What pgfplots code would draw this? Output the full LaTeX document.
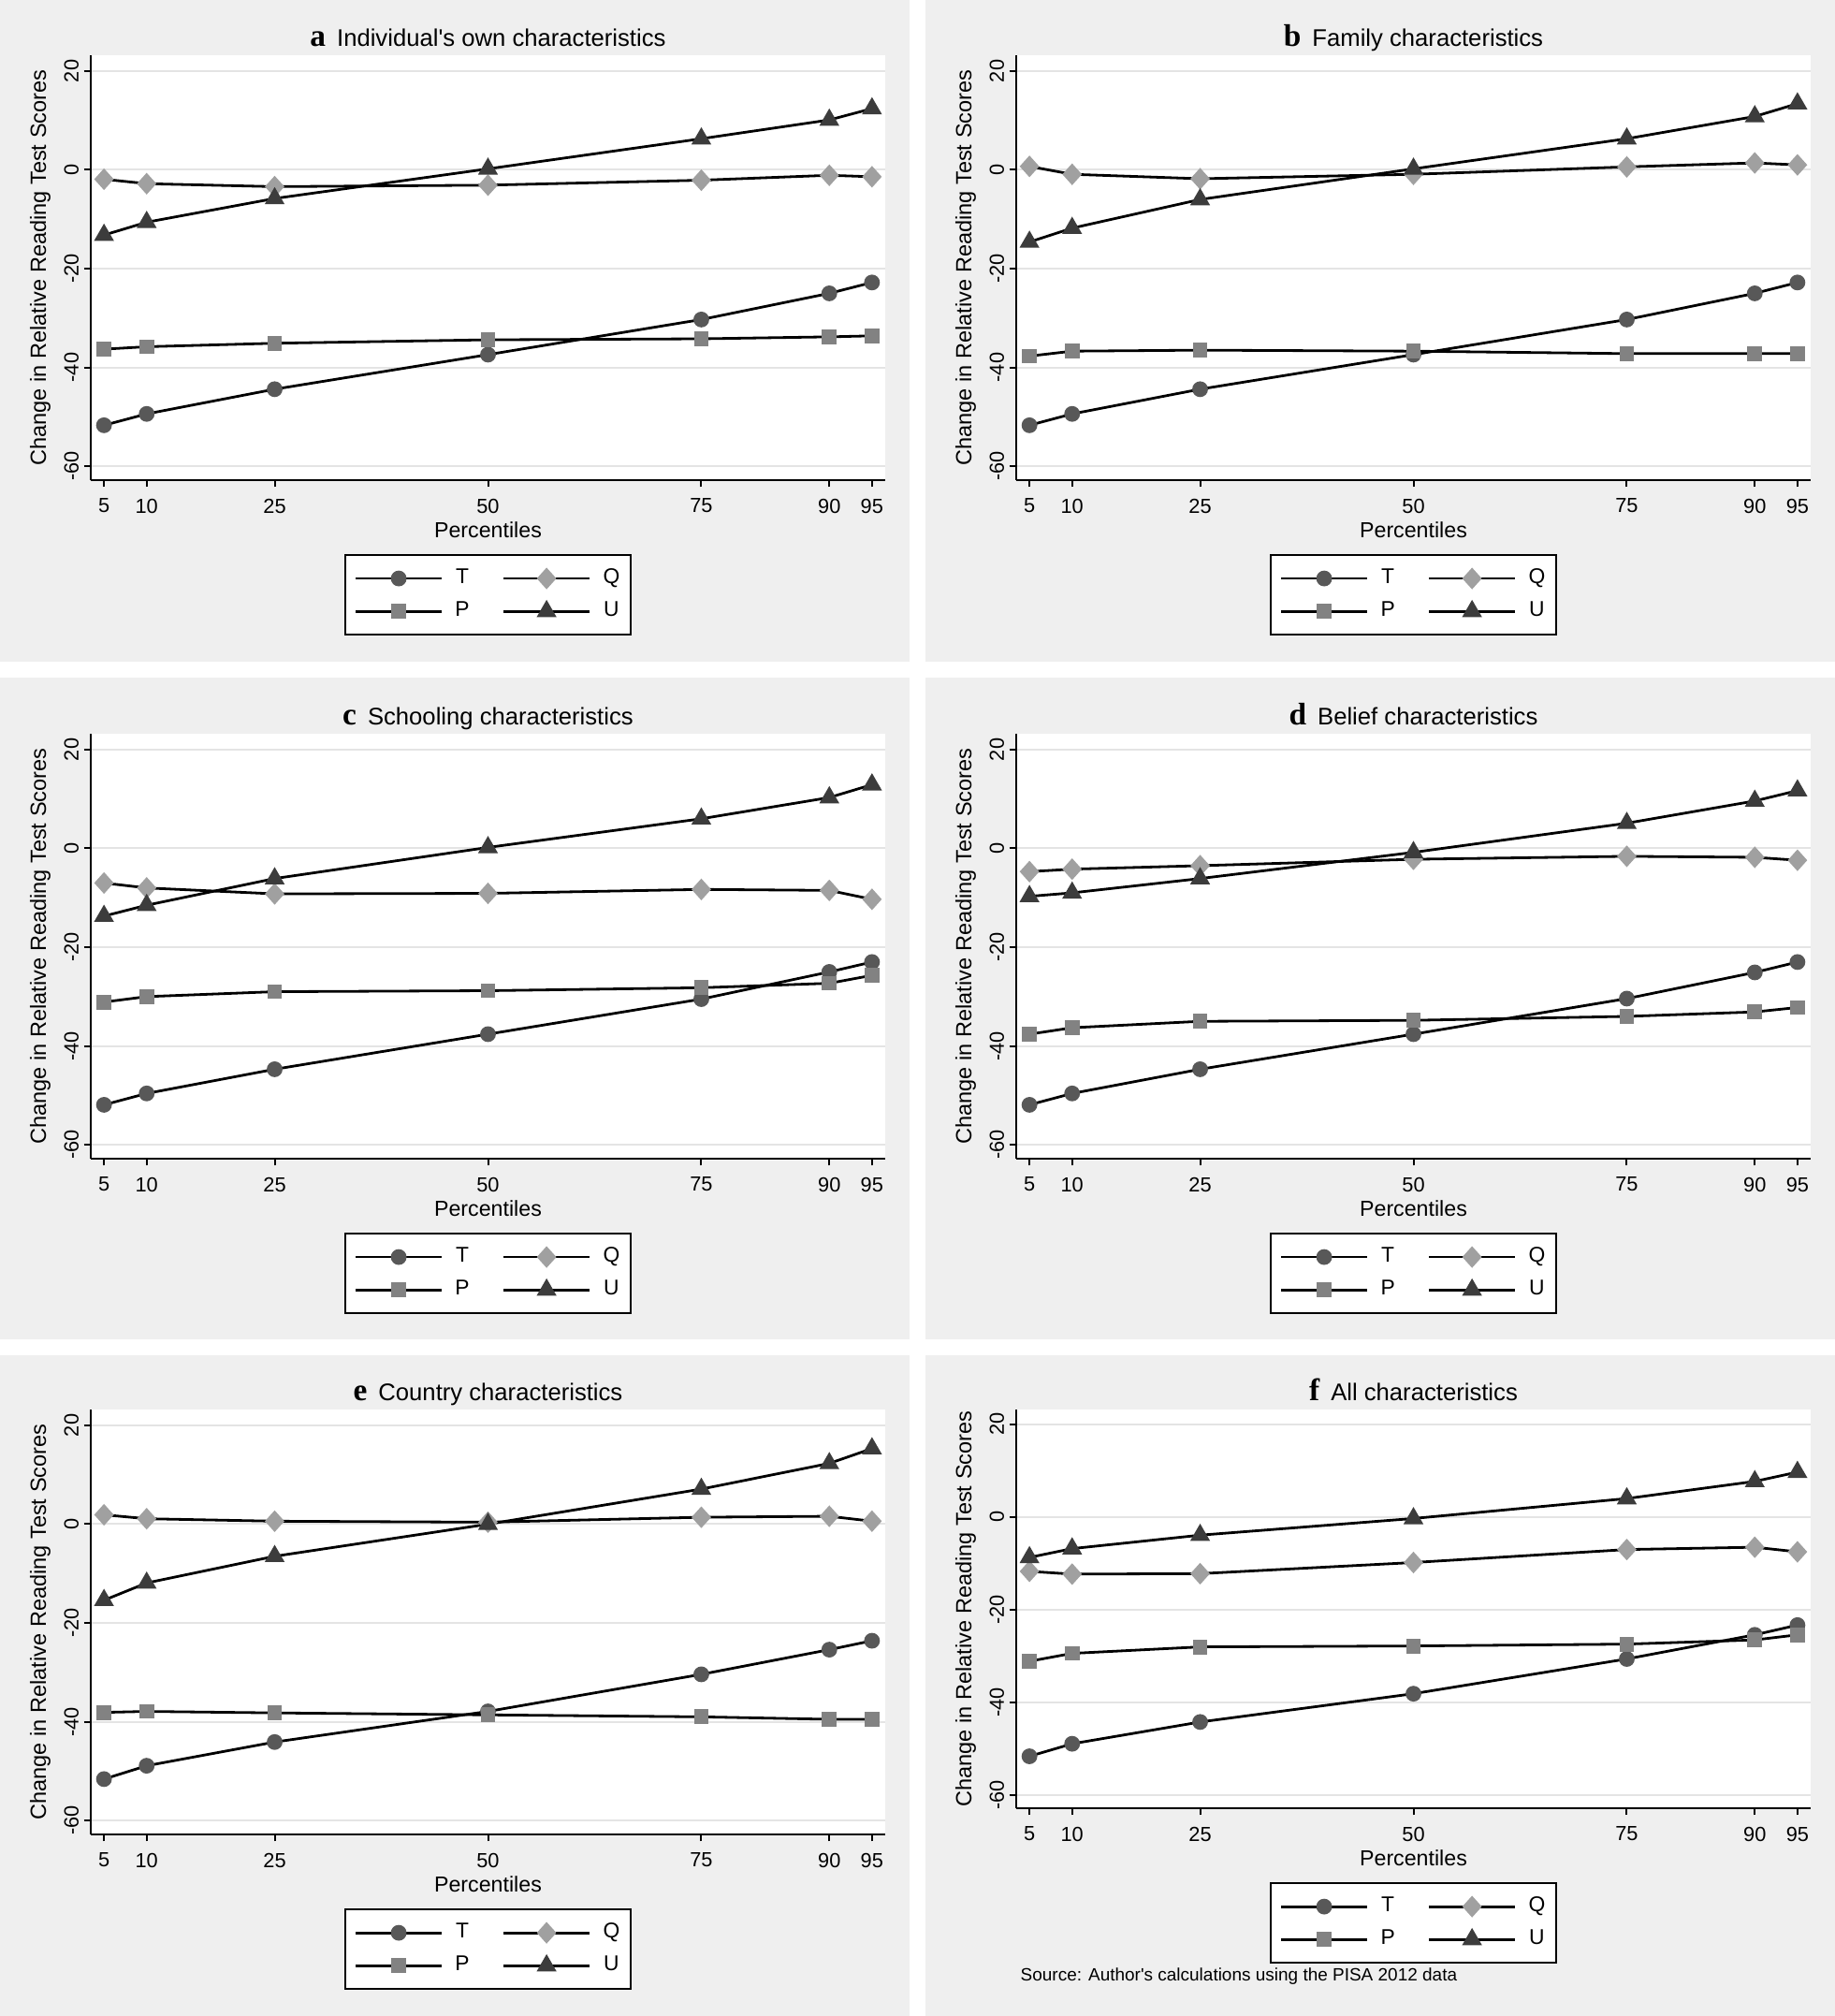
\documentclass[border=0pt]{standalone}
\usepackage{pgfplots}
\pgfplotsset{compat=1.18}
\usepackage{pgfplotstable}
\usepackage{fontspec}
\setmainfont{Liberation Sans}
\newfontfamily\serifb{Liberation Serif}
\newcommand\fs[1]{\fontsize{#1}{#1}\selectfont}
\definecolor{bg}{HTML}{EFEFEF}
\definecolor{gridc}{HTML}{E4E4E4}
\definecolor{cT}{HTML}{585858}
\definecolor{cQ}{HTML}{A0A0A0}
\definecolor{cP}{HTML}{828282}
\definecolor{cU}{HTML}{3C3C3C}

\pgfplotstableread{
x T Q P U
5  -51.7 -1.9 -36.3 -13.2
10 -49.4 -2.8 -35.8 -10.6
25 -44.4 -3.4 -35.1 -5.8
50 -37.4 -3.1 -34.4 0.2
75 -30.3 -2.1 -34.2 6.3
90 -25.0 -1.1 -33.8 10.1
95 -22.8 -1.4 -33.6 12.4
}\tabA
\pgfplotstableread{
x T Q P U
5  -51.7 0.7 -37.7 -14.6
10 -49.4 -0.9 -36.7 -11.8
25 -44.4 -1.8 -36.5 -6.0
50 -37.4 -0.9 -36.7 0.2
75 -30.3 0.6 -37.2 6.3
90 -25.0 1.4 -37.2 10.8
95 -22.8 1.0 -37.2 13.4
}\tabB
\pgfplotstableread{
x T Q P U
5  -51.9 -7.0 -31.1 -13.7
10 -49.6 -8.0 -30.0 -11.5
25 -44.7 -9.2 -29.0 -6.1
50 -37.6 -9.1 -28.8 0.2
75 -30.5 -8.3 -28.2 6.0
90 -25.0 -8.5 -27.3 10.3
95 -23.0 -10.3 -25.7 12.9
}\tabC
\pgfplotstableread{
x T Q P U
5  -51.9 -4.7 -37.6 -9.7
10 -49.6 -4.2 -36.3 -9.0
25 -44.7 -3.5 -35.0 -6.1
50 -37.6 -2.2 -34.8 -0.8
75 -30.4 -1.6 -34.0 5.1
90 -25.1 -1.8 -33.1 9.6
95 -23.0 -2.4 -32.2 11.7
}\tabD
\pgfplotstableread{
x T Q P U
5  -51.6 1.9 -38.1 -15.4
10 -48.9 1.1 -37.9 -11.9
25 -44.1 0.6 -38.2 -6.5
50 -37.9 0.4 -38.6 0.0
75 -30.4 1.4 -39.0 7.1
90 -25.4 1.6 -39.5 12.3
95 -23.6 0.6 -39.5 15.3
}\tabE
\pgfplotstableread{
x T Q P U
5  -51.6 -11.7 -31.1 -8.7
10 -48.9 -12.3 -29.4 -6.8
25 -44.2 -12.2 -28.0 -3.9
50 -38.1 -9.8 -27.8 -0.3
75 -30.6 -7.0 -27.4 4.0
90 -25.4 -6.5 -26.5 7.7
95 -23.3 -7.5 -25.4 9.7
}\tabF

\pgfplotsset{
  panel/.style={
    scale only axis, width=84.9mm, height=45.4mm,
    xmin=3.45, xmax=96.55, ymin=-62.8, ymax=23.2,
    axis x line*=bottom, axis y line*=left,
    axis line style={-, line width=0.2mm, black},
    axis background/.style={fill=white},
    xtick={5,10,25,50,75,90,95}, xticklabels={5,10,25,50,75,90,95},
    ytick={-60,-40,-20,0,20}, yticklabels={-60,-40,-20,0,20},
    minor tick num=0,
    tick align=outside, major tick length=0.75mm,
    tick style={line width=0.2mm, black},
    ymajorgrids, major grid style={gridc, line width=0.2mm},
    ticklabel style={font=\fs{6.2}},
    yticklabel style={rotate=90, anchor=south},
    yticklabel shift=-0.7mm,
    xlabel={Percentiles},
    ylabel={Change in Relative Reading Test Scores},
    xlabel style={font=\fs{6.6}, at={([yshift=-5.3mm]axis description cs:0.5,0)}, anchor=center},
    ylabel style={font=\fs{6.7}, at={([xshift=-5.4mm]axis description cs:0,0.5)}, anchor=center},
    title style={at={(axis description cs:0.5,1)}, anchor=base, yshift=-1.2mm},
    legend columns=2,
    legend style={at={(axis description cs:0.5,0)}, anchor=north, yshift=-7.9mm,
      draw=black, line width=0.2mm, fill=white, font=\fs{6.5},
      inner xsep=1.0mm, inner ysep=1.25mm, row sep=1.0mm,
      nodes={inner sep=0.2mm},
      /tikz/every odd column/.append style={column sep=1.1mm},
      /tikz/every even column/.append style={column sep=3.3mm}},
    legend image code/.code={\draw[mark repeat=2,mark phase=2] plot coordinates {(0mm,0mm) (4.6mm,0mm) (9.2mm,0mm)};},
    every axis plot/.append style={black, line width=0.28mm},
  },
  sT/.style={mark=*, mark size=0.7mm, mark options={fill=cT, draw=cT, solid}},
  sQ/.style={mark=diamond*, mark size=0.95mm, mark options={fill=cQ, draw=cQ, solid, xscale=1.2}},
  sP/.style={mark=square*, mark size=0.65mm, mark options={fill=cP, draw=cP, solid}},
  sU/.style={mark=triangle*, mark size=0.95mm, mark options={fill=cU, draw=cU, solid}},
}

\newcommand\ttl[2]{{\serifb\bfseries\fs{9.5}#1}\hspace{1.2mm}{\fs{7.3}#2}}
\newcommand\series[1]{%
  \addplot[sT] table[x=x,y=T] {#1};
  \addplot[sQ] table[x=x,y=Q] {#1};
  \addplot[sP] table[x=x,y=P] {#1};
  \addplot[sU] table[x=x,y=U] {#1};
  \legend{T,Q,P,U}
}

\begin{document}
\begin{tikzpicture}
\path[use as bounding box, fill=white] (0mm,0mm) rectangle (196.1mm,215.4mm);
\fill[bg] (0mm,144.7mm) rectangle (97.2mm,215.4mm);
\fill[bg] (98.9mm,144.7mm) rectangle (196.1mm,215.4mm);
\fill[bg] (0mm,72.3mm) rectangle (97.2mm,143.0mm);
\fill[bg] (98.9mm,72.3mm) rectangle (196.1mm,143.0mm);
\fill[bg] (0mm,0mm) rectangle (97.2mm,70.6mm);
\fill[bg] (98.9mm,0mm) rectangle (196.1mm,70.6mm);

\begin{axis}[panel, at={(9.7mm,164.1mm)}, anchor=south west,
  title={\ttl{a}{Individual\textquotesingle s own characteristics}}]
\series{\tabA}
\end{axis}
\begin{axis}[panel, at={(108.6mm,164.1mm)}, anchor=south west,
  title={\ttl{b}{Family characteristics}}]
\series{\tabB}
\end{axis}
\begin{axis}[panel, at={(9.7mm,91.6mm)}, anchor=south west,
  title={\ttl{c}{Schooling characteristics}}]
\series{\tabC}
\end{axis}
\begin{axis}[panel, at={(108.6mm,91.6mm)}, anchor=south west,
  title={\ttl{d}{Belief characteristics}}]
\series{\tabD}
\end{axis}
\begin{axis}[panel, at={(9.7mm,19.4mm)}, anchor=south west,
  title={\ttl{e}{Country characteristics}}]
\series{\tabE}
\end{axis}
\begin{axis}[panel, height=42.6mm, at={(108.6mm,22.2mm)}, anchor=south west,
  title={\ttl{f}{All characteristics}}]
\series{\tabF}
\end{axis}
\node[anchor=west, font=\fs{5.4}, inner sep=0pt] at (109.0mm,4.2mm) {Source: Author\textquotesingle s calculations using the PISA 2012 data};
\end{tikzpicture}
\end{document}
